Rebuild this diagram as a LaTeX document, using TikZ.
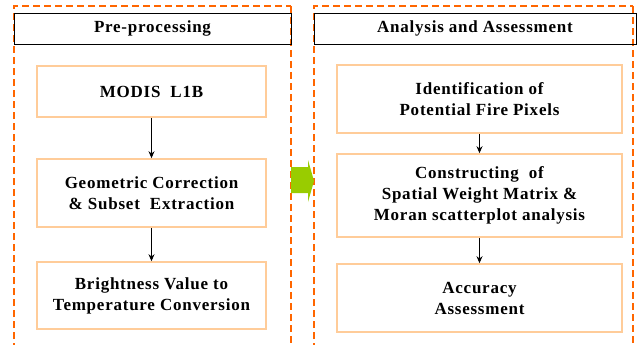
\documentclass[tikz,border=0pt]{standalone}
\usepackage{fontspec}
\setmainfont{Liberation Serif}[LetterSpace=4.5]
\usetikzlibrary{arrows.meta}
\definecolor{dashor}{HTML}{FF6600}
\definecolor{boxor}{HTML}{FFCC99}
\definecolor{grn}{HTML}{99CC00}
\begin{document}
\begin{tikzpicture}[x=1pt,y=-1pt,
  txt/.style={align=center,font=\fontsize{17}{21}\selectfont\bfseries,inner sep=0pt},
  stepbox/.style={txt,draw=boxor,line width=1.6pt},
  header/.style={txt,draw=black,line width=0.8pt},
  outerthick/.style={draw=dashor,line width=1.8pt,dash pattern=on 7pt off 4pt},
  outerthin/.style={draw=dashor,line width=1.3pt,dash pattern=on 7pt off 4pt},
  conn/.style={draw=black,line width=0.8pt,-{Stealth[length=7pt,width=6pt]}}]
\useasboundingbox (0,0) rectangle (637,345);
% outer dashed frames
\draw[outerthick] (14,350) -- (14,6) -- (291,6);
\draw[outerthin] (291,6) -- (291,350);
\draw[outerthick] (314,350) -- (314,6) -- (633,6);
\draw[outerthin] (633,6) -- (633,350);
% headers
\node[header,minimum width=277pt,minimum height=31pt] (hl) at (152.5,28.5) {Pre-processing};
\node[header,minimum width=322pt,minimum height=31pt] (hr) at (475,28.5) {Analysis and Assessment};
% left column
\node[stepbox,minimum width=229pt,minimum height=51pt] (modis) at (151.5,91.5) {MODIS\ \ L1B};
\node[stepbox,minimum width=229pt,minimum height=68pt] (geo) at (151.5,193) {Geometric Correction\\\&\ Subset\ \ Extraction};
\node[stepbox,minimum width=229pt,minimum height=67pt] (bright) at (151.5,295.5) {Brightness Value to\\Temperature Conversion};
% right column
\node[stepbox,minimum width=285pt,minimum height=68pt] (ident) at (479.5,99) {Identification of\\Potential Fire Pixels};
\node[stepbox,minimum width=285pt,minimum height=83pt] (constr) at (479.5,195.5) {Constructing\ \ of\\Spatial Weight Matrix \&\\Moran scatterplot analysis};
\node[stepbox,minimum width=285pt,minimum height=68pt] (acc) at (479.5,298) {Accuracy\\Assessment};
% connectors
\draw[conn] (modis) -- (geo);
\draw[conn] (geo) -- (bright);
\draw[conn] (ident) -- (constr);
\draw[conn] (constr) -- (acc);
% green arrow
\fill[grn] (291,167) -- (308,167) -- (308,160) -- (314,181) -- (308,202) -- (308,193) -- (291,193) -- cycle;
\end{tikzpicture}
\end{document}
